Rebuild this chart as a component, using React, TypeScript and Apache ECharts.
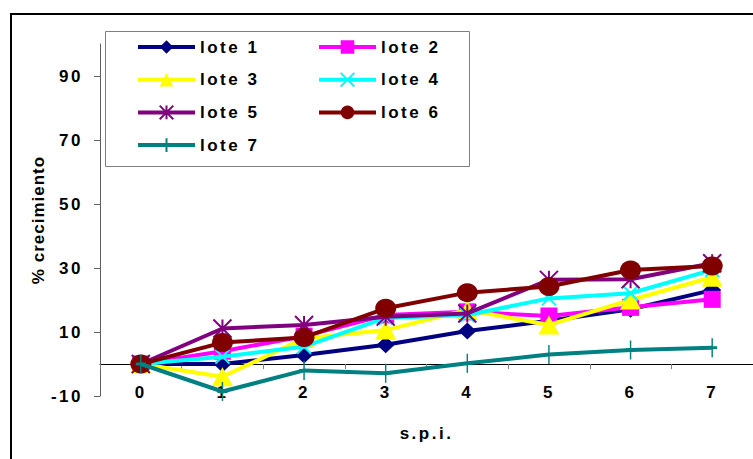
import React, { useEffect, useRef } from "react";
import * as echarts from "echarts";

const categories = ["0", "1", "2", "3", "4", "5", "6", "7"];
const seriesNames = ["lote 1", "lote 2", "lote 3", "lote 4", "lote 5", "lote 6", "lote 7"];
const lote1 = [0, 0, 2.8, 6, 10.3, 13.5, 17.1, 23.1];
const lote2 = [0, 4, 8.7, 15.3, 16.3, 15, 17.7, 20.2];
const lote3 = [0, -4, 8, 10.6, 16.9, 12.2, 20, 27.1];
const lote4 = [0, 2.3, 5.4, 14.4, 15.3, 20.5, 22.1, 29.4];
const lote5 = [0, 11.1, 12.2, 14.8, 15.8, 26.3, 26.5, 31.5];
const lote6 = [0, 6.7, 8.3, 17.4, 22.3, 24.2, 29.4, 30.6];
const lote7 = [0, -8.6, -2, -2.9, 0.2, 3, 4.4, 5.1];
const yTickValues = [-10, 10, 30, 50, 70, 90];

const FONT = "'Liberation Sans', Arial, sans-serif";
const FS = 17;

export default function App() {
  const ref = useRef<HTMLDivElement>(null);
  useEffect(() => {
    if (!ref.current) return;
    const chart = echarts.init(ref.current, undefined, { renderer: "svg" });
    const seriesData = [lote1, lote2, lote3, lote4, lote5, lote6, lote7];
    const colors = ["#000080", "#FF00FF", "#FFFF00", "#00FFFF", "#800080", "#800000", "#008080"];
    const symbols = [
      "diamond",
      "rect",
      "triangle",
      "path://M0,0L10,10M10,0L0,10",
      "path://M0,0L10,10M10,0L0,10M5,0L5,10",
      "circle",
      "path://M5,0L5,10M0,5L10,5",
    ];
    const sizes: any[] = [[18, 17], 17, [21, 19], 14, 18, [21, 19], [10, 19]];
    const stroked = [false, false, false, true, true, false, true];

    const series = seriesNames.map((name, i) => ({
      name,
      type: "line",
      xAxisIndex: 0,
      yAxisIndex: 0,
      data: seriesData[i],
      symbol: symbols[i],
      symbolSize: sizes[i],
      showAllSymbol: true,
      lineStyle: { color: colors[i], width: 4 },
      itemStyle: stroked[i]
        ? { color: colors[i], borderColor: colors[i], borderWidth: 2 }
        : { color: colors[i], borderWidth: 0 },
      emphasis: { disabled: true },
      silent: true,
      z: 2 + i * 0.01,
    }));

    const legendBase = {
      orient: "vertical",
      itemWidth: 57,
      itemHeight: 17,
      itemGap: 15.7,
      selectedMode: false,
      lineStyle: { width: 4 },
      textStyle: { fontFamily: FONT, fontSize: FS, fontWeight: "bold", color: "#000" },
      padding: 0,
      z: 6,
    };

    const textStyle = { fontFamily: FONT, fontSize: FS, fontWeight: "bold", color: "#000" };

    chart.setOption({
      animation: false,
      backgroundColor: "#fff",
      grid: { left: 100, top: 44, right: -4, bottom: 63, containLabel: false },
      legend: [
        { ...legendBase, left: 136, top: 38.5, data: ["lote 1", "lote 3", "lote 5", "lote 7"] },
        { ...legendBase, left: 317, top: 38.5, data: ["lote 2", "lote 4", "lote 6"] },
      ],
      xAxis: [
        {
          type: "category",
          data: categories,
          position: "bottom",
          boundaryGap: true,
          axisLine: { show: false, onZero: false },
          axisTick: { show: false },
          splitLine: { show: false },
          axisLabel: { margin: -12, ...textStyle },
          name: "s.p.i.",
          nameLocation: "middle",
          nameGap: 29,
          nameTextStyle: textStyle,
        },
        {
          type: "category",
          data: categories,
          position: "bottom",
          boundaryGap: true,
          axisLine: { show: true, onZero: true, lineStyle: { color: "#000", width: 1 } },
          axisTick: { show: true, length: 5, inside: false, lineStyle: { color: "#808080", width: 1 } },
          axisLabel: { show: false },
          splitLine: { show: false },
        },
      ],
      yAxis: {
        type: "value",
        min: -10,
        max: 100,
        position: "left",
        axisLine: { show: true, onZero: false, lineStyle: { color: "#606060", width: 1 } },
        axisTick: { show: true, length: 6, customValues: yTickValues, lineStyle: { color: "#606060" } },
        axisLabel: { customValues: yTickValues, margin: 17, ...textStyle },
        splitLine: { show: false },
        name: "% crecimiento",
        nameLocation: "middle",
        nameRotate: 90,
        nameGap: 53,
        nameTextStyle: textStyle,
      },
      graphic: [
        {
          type: "rect",
          shape: { x: 11, y: 14, width: 800, height: 500 },
          style: { fill: "none", stroke: "#000", lineWidth: 2 },
          silent: true,
          z: 10,
        },
        {
          type: "rect",
          shape: { x: 105.5, y: 31.5, width: 364, height: 135 },
          style: { fill: "#fff", stroke: "#808080", lineWidth: 1 },
          silent: true,
          z: 3,
        },
      ],
      series,
    });

    const applySpacing = () => {
      const texts = ref.current?.querySelectorAll("text") || [];
      texts.forEach((t: any) => {
        const s = t.textContent === "% crecimiento" ? "1px" : "2.5px";
        t.style.letterSpacing = s;
      });
    };
    chart.on("finished", applySpacing);
    applySpacing();
    const timer = setTimeout(applySpacing, 50);

    return () => {
      clearTimeout(timer);
      chart.dispose();
    };
  }, []);

  return (
    <div
      ref={ref}
      style={{ position: "fixed", left: 0, top: 0, width: 753, height: 459, background: "#fff" }}
    />
  );
}
